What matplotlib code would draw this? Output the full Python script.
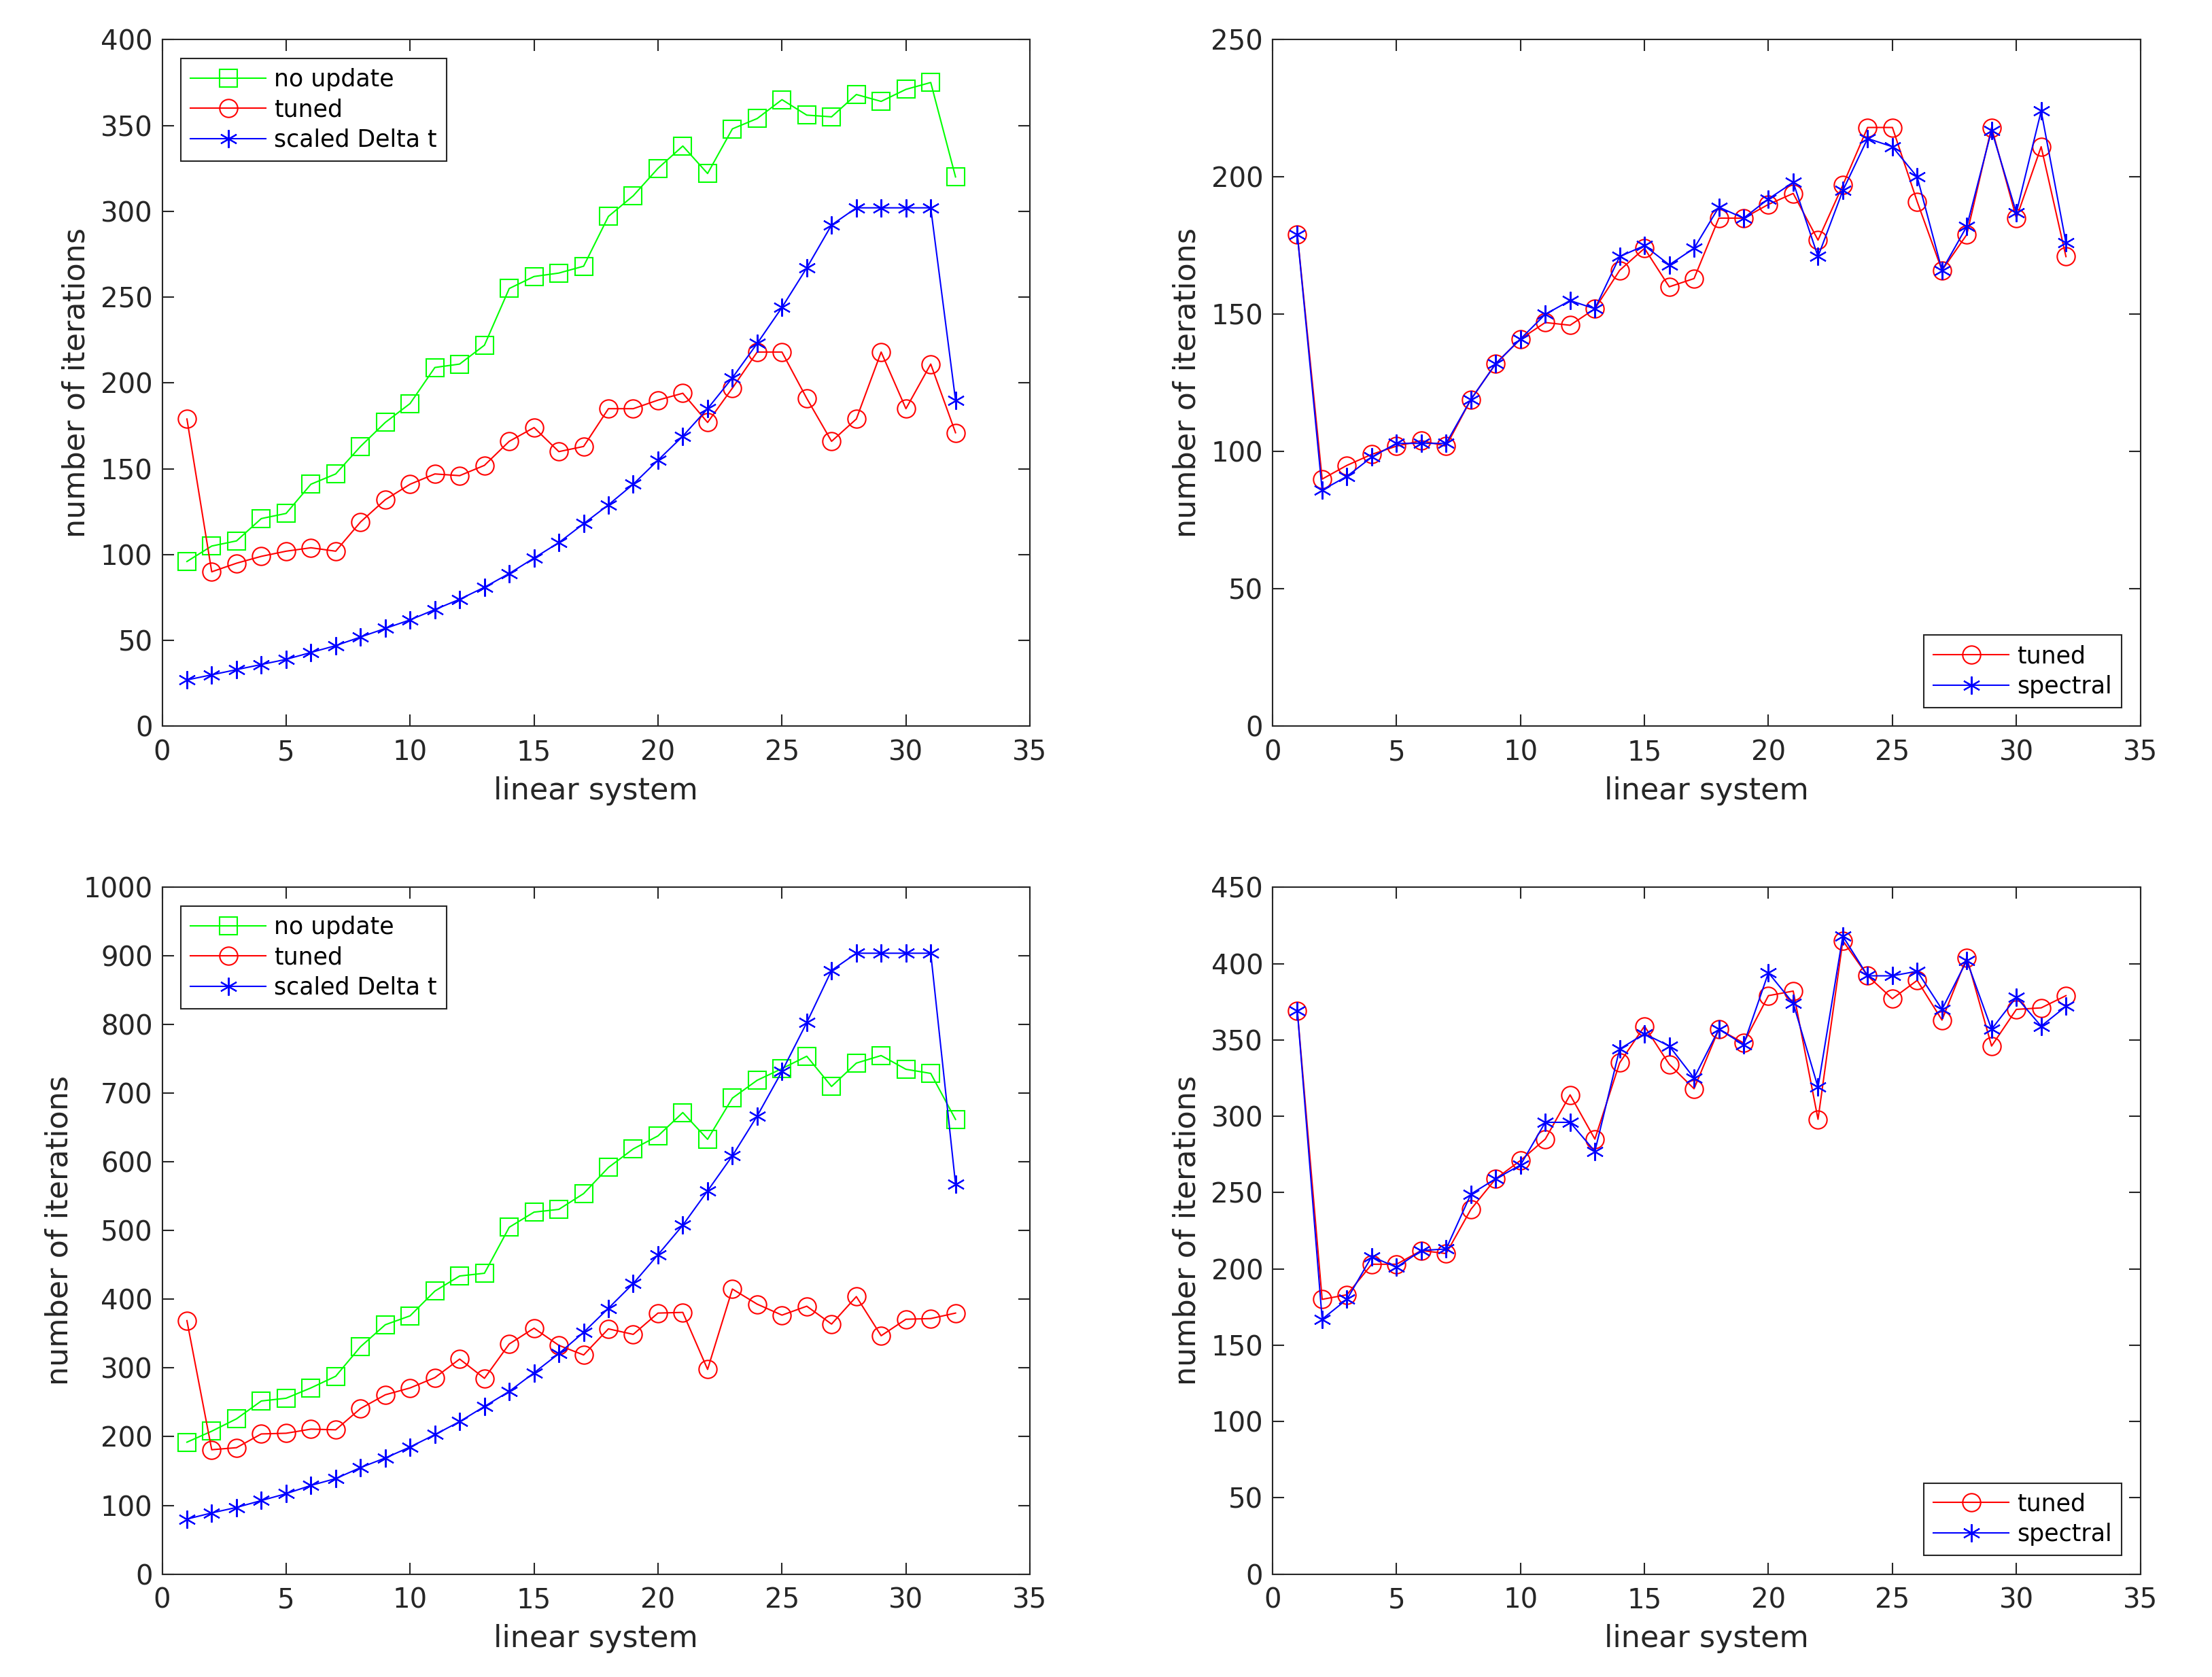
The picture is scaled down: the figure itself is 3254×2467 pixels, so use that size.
# Iteration counts per linear system: four panels, MATLAB-like styling
import numpy as np
import matplotlib
matplotlib.use("Agg")
import matplotlib.pyplot as plt

plt.rcParams["font.family"] = ["DejaVu Sans"]

systems = np.arange(1, 33)

# top row data
top_no_update = [96, 105, 108, 121, 124, 141, 147, 163, 177, 188, 209, 211, 222, 255, 262, 264,
                 268, 297, 309, 325, 338, 322, 348, 354, 365, 356, 355, 368, 364, 371, 375, 320]
top_tuned = [179, 90, 95, 99, 102, 104, 102, 119, 132, 141, 147, 146, 152, 166, 174, 160,
             163, 185, 185, 190, 194, 177, 197, 218, 218, 191, 166, 179, 218, 185, 211, 171]
top_scaled = [27, 30, 33, 36, 39, 43, 47, 52, 57, 62, 68, 74, 81, 89, 98, 107,
              118, 129, 141, 155, 169, 185, 203, 223, 244, 267, 292, 302, 302, 302, 302, 190]
top_spectral = [179, 86, 91, 98, 103, 103, 103, 119, 132, 141, 150, 155, 152, 171, 175, 168,
                174, 189, 185, 192, 198, 171, 195, 214, 211, 200, 166, 182, 217, 187, 224, 176]

# bottom row data
bot_no_update = [192, 208, 226, 252, 256, 271, 288, 331, 363, 376, 412, 434, 438, 505, 527, 531,
                 554, 592, 619, 638, 672, 633, 693, 719, 736, 754, 710, 744, 755, 735, 729, 662]
bot_tuned = [369, 181, 184, 204, 205, 211, 210, 241, 261, 271, 286, 313, 285, 335, 358, 333,
             319, 357, 349, 380, 381, 298, 415, 393, 377, 390, 364, 404, 347, 371, 372, 380]
bot_scaled = [80, 89, 97, 107, 117, 129, 139, 155, 169, 185, 203, 222, 244, 266, 293, 321,
              352, 387, 423, 465, 508, 558, 609, 667, 732, 803, 879, 904, 904, 904, 904, 568]
bot_tuned2 = [369, 180, 183, 203, 203, 212, 210, 239, 259, 271, 285, 314, 285, 335, 359, 334,
              318, 357, 348, 379, 382, 298, 415, 392, 377, 389, 363, 404, 346, 370, 371, 379]
bot_spectral = [369, 167, 180, 208, 201, 212, 213, 249, 259, 268, 296, 296, 277, 344, 354, 346,
                325, 357, 347, 394, 374, 319, 418, 392, 392, 395, 370, 402, 357, 378, 359, 372]

ylims = [(0, 400, 50), (0, 250, 50), (0, 1000, 100), (0, 450, 50)]

star = (6, 2, 0)
green = (0, 1, 0)
red = (1, 0, 0)
blue = (0, 0, 1)
axcol = (0.15, 0.15, 0.15)

fig = plt.figure(figsize=(32.54, 24.67), dpi=100)
lefts = [0.0733, 0.5753]
bottoms = [0.5669, 0.0614]
w = 0.3923
h = 0.4095

axes = []
for b in bottoms:
    for l in lefts:
        axes.append(fig.add_axes([l, b, w, h]))

lw = 1.5
ms = 19
common = dict(linewidth=lw, markersize=ms, markerfacecolor="none", markeredgewidth=1.5)

# top left
ax = axes[0]
ax.plot(systems, top_no_update, color=green, marker="s", label="no update", **common)
ax.plot(systems, top_tuned, color=red, marker="o", label="tuned", **common)
ax.plot(systems, top_scaled, color=blue, marker=star, label="scaled Delta t", **common)

# top right
ax = axes[1]
ax.plot(systems, top_tuned, color=red, marker="o", label="tuned", **common)
ax.plot(systems, top_spectral, color=blue, marker=star, label="spectral", **common)

# bottom left
ax = axes[2]
ax.plot(systems, bot_no_update, color=green, marker="s", label="no update", **common)
ax.plot(systems, bot_tuned, color=red, marker="o", label="tuned", **common)
ax.plot(systems, bot_scaled, color=blue, marker=star, label="scaled Delta t", **common)

# bottom right
ax = axes[3]
ax.plot(systems, bot_tuned2, color=red, marker="o", label="tuned", **common)
ax.plot(systems, bot_spectral, color=blue, marker=star, label="spectral", **common)

for i, ax in enumerate(axes):
    lo, hi, step = ylims[i]
    ax.set_xlim(0, 35)
    ax.set_ylim(lo, hi)
    ax.set_xticks(np.arange(0, 36, 5))
    ax.set_yticks(np.arange(lo, hi + 1, step))
    ax.tick_params(direction="in", top=True, right=True, length=12, width=1.5,
                   labelsize=29, colors=axcol, pad=10)
    ax.tick_params(axis="x", pad=14)
    for s in ax.spines.values():
        s.set_color(axcol)
        s.set_linewidth(1.5)
    ax.set_xlabel("linear system", fontsize=32, color=axcol, labelpad=10)
    ax.set_ylabel("number of iterations", fontsize=32, color=axcol, labelpad=10)
    loc = "upper left" if i % 2 == 0 else "lower right"
    leg = ax.legend(loc=loc, fontsize=25, fancybox=False, edgecolor=axcol,
                    handlelength=3.2, borderpad=0.4, labelspacing=0.3,
                    handletextpad=0.35, borderaxespad=0.8, framealpha=1)
    leg.get_frame().set_linewidth(1.5)

fig.savefig("out.png", dpi=100)
